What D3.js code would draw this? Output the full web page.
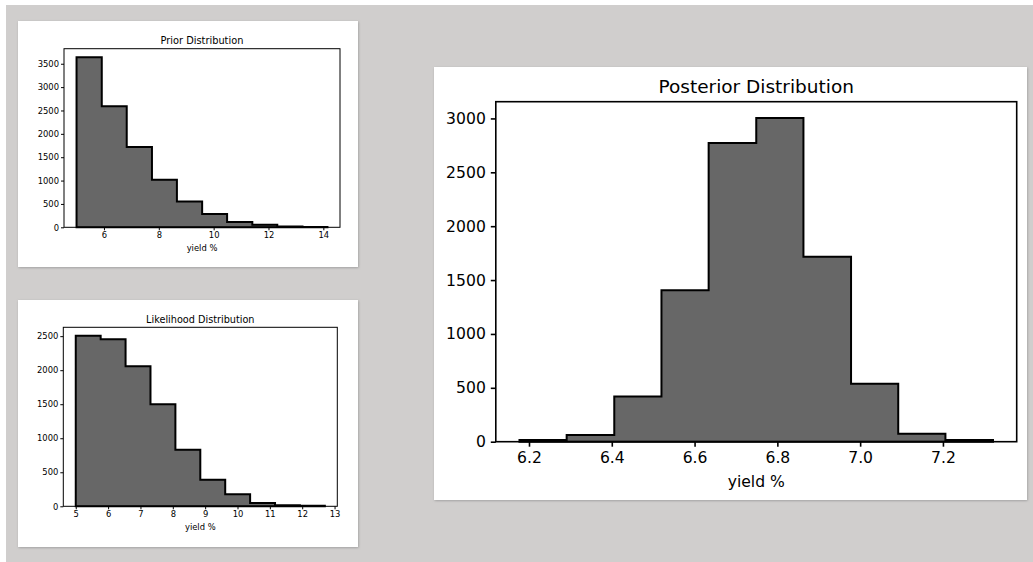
<!DOCTYPE html>
<html>
<head>
<meta charset="utf-8">
<script src="https://cdn.jsdelivr.net/npm/d3@7"></script>
<style>
  html, body { margin: 0; padding: 0; background: #fff; }
  svg { display: block; font-family: "DejaVu Sans", sans-serif; }
</style>
</head>
<body>
<svg id="chart" width="1033" height="562"></svg>
<script>
// bin edges and counts
const priorEdges  = [5.00, 5.92, 6.83, 7.75, 8.66, 9.58, 10.49, 11.41, 12.32, 13.24, 14.15];
const priorCounts = [3640, 2590, 1720, 1020, 553, 287, 115, 57, 15, 5];
const priorXTicks = [6, 8, 10, 12, 14];
const priorYTicks = [0, 500, 1000, 1500, 2000, 2500, 3000, 3500];

const likeEdges  = [5.00, 5.77, 6.54, 7.31, 8.08, 8.85, 9.62, 10.39, 11.16, 11.93, 12.70];
const likeCounts = [2505, 2455, 2057, 1501, 832, 389, 177, 49, 15, 8];
const likeXTicks = [5, 6, 7, 8, 9, 10, 11, 12, 13];
const likeYTicks = [0, 500, 1000, 1500, 2000, 2500];

const postEdges  = [6.177, 6.291, 6.406, 6.520, 6.634, 6.749, 6.863, 6.978, 7.092, 7.206, 7.321];
const postCounts = [15, 62, 419, 1406, 2772, 3005, 1716, 537, 74, 15];
const postXTicks = [6.2, 6.4, 6.6, 6.8, 7.0, 7.2];
const postYTicks = [0, 500, 1000, 1500, 2000, 2500, 3000];

const svg = d3.select("#chart");

// page background
svg.append("rect").attr("x", 6).attr("y", 5).attr("width", 1027).attr("height", 557).attr("fill", "#d0cecd");

const defs = svg.append("defs");
defs.append("filter").attr("id", "shadow")
  .attr("x", "-5%").attr("y", "-5%").attr("width", "110%").attr("height", "110%")
  .append("feDropShadow")
  .attr("dx", 0.6).attr("dy", 0.8).attr("stdDeviation", 0.8)
  .attr("flood-color", "#888").attr("flood-opacity", 0.7);

function drawHist(o) {
  // white card
  svg.append("rect")
    .attr("x", o.panel[0]).attr("y", o.panel[1])
    .attr("width", o.panel[2]).attr("height", o.panel[3])
    .attr("fill", "#fff")
    .attr("filter", "url(#shadow)");

  const x0 = o.edges[0], x1 = o.edges[o.edges.length - 1];
  const pad = (x1 - x0) * 0.05;
  const x = d3.scaleLinear().domain([x0 - pad, x1 + pad]).range([o.l, o.r]);
  const y = d3.scaleLinear().domain([0, d3.max(o.counts) * 1.05]).range([o.b, o.t]);

  const g = svg.append("g");

  // step outline of the histogram
  const pts = [[o.edges[0], 0]];
  o.counts.forEach((c, i) => {
    pts.push([o.edges[i], c]);
    pts.push([o.edges[i + 1], c]);
  });
  pts.push([x1, 0]);
  g.append("path")
    .attr("d", d3.line().x(d => x(d[0])).y(d => y(d[1]))(pts) + "Z")
    .attr("fill", "#676767")
    .attr("stroke", "#000")
    .attr("stroke-width", o.lw)
    .attr("stroke-linejoin", "miter");

  // X Axis
  const xa = g.append("g")
    .attr("transform", `translate(0, ${o.b})`)
    .call(d3.axisBottom(x).tickValues(o.xTicks).tickSize(o.tick).tickPadding(o.tickPad)
      .tickFormat(o.xFmt))
    .attr("font-family", "DejaVu Sans");
  xa.select(".domain").remove();
  xa.selectAll("line").attr("stroke-width", o.sw);
  xa.selectAll("text").style("font-size", o.fs + "px").attr("fill", "#000");

  // Y Axis
  const ya = g.append("g")
    .attr("transform", `translate(${o.l}, 0)`)
    .call(d3.axisLeft(y).tickValues(o.yTicks).tickSize(o.tick).tickPadding(o.tickPad)
      .tickFormat(d3.format("d")))
    .attr("font-family", "DejaVu Sans");
  ya.select(".domain").remove();
  ya.selectAll("line").attr("stroke-width", o.sw);
  ya.selectAll("text").style("font-size", o.fs + "px").attr("fill", "#000");

  // frame
  g.append("rect")
    .attr("x", o.l).attr("y", o.t)
    .attr("width", o.r - o.l).attr("height", o.b - o.t)
    .attr("fill", "none").attr("stroke", "#000").attr("stroke-width", o.sw);

  // Title
  g.append("text")
    .attr("x", (o.l + o.r) / 2).attr("y", o.titleY)
    .attr("text-anchor", "middle")
    .style("font-size", o.tfs + "px")
    .text(o.title);

  // X label
  g.append("text")
    .attr("x", (o.l + o.r) / 2).attr("y", o.labelY)
    .attr("text-anchor", "middle")
    .style("font-size", o.fs + "px")
    .text("yield %");
}

drawHist({
  edges: priorEdges, counts: priorCounts, xTicks: priorXTicks, yTicks: priorYTicks,
  xFmt: d3.format("d"),
  panel: [18, 21, 340, 246], l: 64, t: 48.7, r: 340, b: 227.3,
  title: "Prior Distribution", titleY: 44, labelY: 251.3,
  fs: 8.4, tfs: 9.8, tick: 3, tickPad: 2, sw: 1, lw: 2
});

drawHist({
  edges: likeEdges, counts: likeCounts, xTicks: likeXTicks, yTicks: likeYTicks,
  xFmt: d3.format("d"),
  panel: [18, 300, 340, 247], l: 63.3, t: 327.3, r: 337.3, b: 506.3,
  title: "Likelihood Distribution", titleY: 323, labelY: 530.3,
  fs: 8.4, tfs: 9.7, tick: 3, tickPad: 2, sw: 1, lw: 2
});

drawHist({
  edges: postEdges, counts: postCounts, xTicks: postXTicks, yTicks: postYTicks,
  xFmt: d3.format(".1f"),
  panel: [434, 67, 593, 433], l: 495.8, t: 101.7, r: 1016.7, b: 441.7,
  title: "Posterior Distribution", titleY: 93.3, labelY: 486.7,
  fs: 15.6, tfs: 18.5, tick: 5, tickPad: 5, sw: 1.6, lw: 2
});
</script>
</body>
</html>
